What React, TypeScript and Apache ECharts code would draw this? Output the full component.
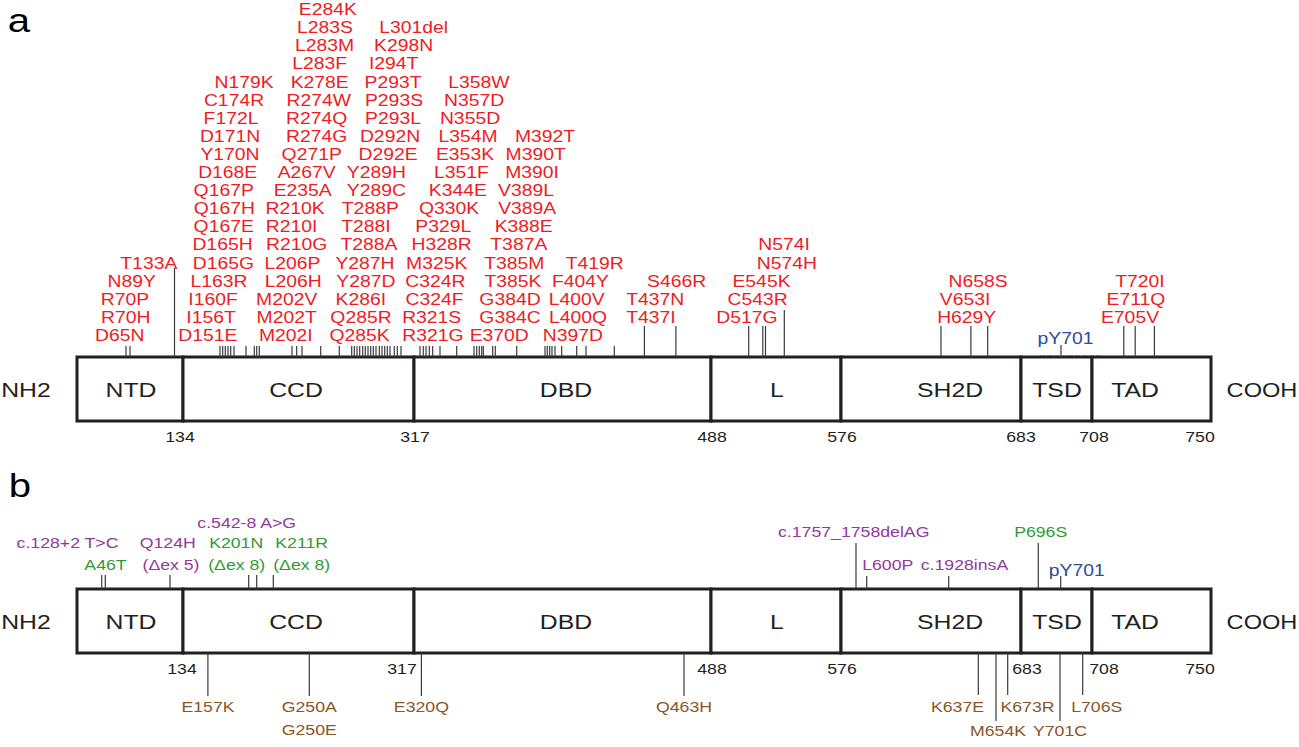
import React, { useEffect, useRef } from "react";
import * as echarts from "echarts";

// ---------- colours ----------
const RED = "#ee1c24";
const PURPLE = "#93399b";
const GREEN = "#2f9a34";
const BLUE = "#2e4b9c";
const BROWN = "#8b5526";
const INK = "#231f20";

// ---------- domain layout (display positions along the protein, axis units) ----------
const domainNames = ["NTD", "CCD", "DBD", "L", "SH2D", "TSD", "TAD"];
const domainEdges = [77, 183, 414, 711, 841, 1021, 1092, 1211];
const domainLabelX = [131, 296, 566, 777, 950, 1057, 1135];
const boundaryNumbers = ["134", "317", "488", "576", "683", "708", "750"];
const boundaryNumberXA = [180, 415, 712, 842, 1021, 1094, 1200];
const boundaryNumberXB = [182, 402, 712, 842, 1027, 1104, 1200];

// panel tops (axis units) and box height
const panelTops = [357, 589];
const BOX_H = 64;

// ---------- panel a : mutation labels [name, position, stack row] ----------
const labelsA: [string, number, number][] = [
  ["D65N", 119.8, 0], ["R70H", 125.8, 1], ["R70P", 125, 2], ["N89Y", 131.7, 3], ["T133A", 148.8, 4],
  ["D151E", 207.8, 0], ["I156T", 211, 1], ["I160F", 213, 2], ["L163R", 219, 3], ["D165G", 223.3, 4],
  ["D165H", 222.5, 5], ["Q167E", 223.7, 6], ["Q167H", 224.3, 7], ["Q167P", 223.7, 8], ["D168E", 227.7, 9],
  ["Y170N", 230, 10], ["D171N", 230, 11], ["F172L", 231, 12], ["C174R", 234, 13], ["N179K", 244, 14],
  ["M202I", 285.8, 0], ["M202T", 286.7, 1], ["M202V", 286.7, 2], ["L206H", 293.3, 3], ["L206P", 292.5, 4],
  ["R210G", 296.7, 5], ["R210I", 291.5, 6], ["R210K", 295, 7], ["E235A", 302.7, 8], ["A267V", 306.7, 9],
  ["Q271P", 311.7, 10], ["R274G", 316.7, 11], ["R274Q", 316.7, 12], ["R274W", 318.8, 13], ["K278E", 319.7, 14],
  ["L283F", 319.7, 15], ["L283M", 324.5, 16], ["L283S", 325, 17], ["E284K", 327.8, 18],
  ["Q285K", 359.5, 0], ["Q285R", 361, 1], ["K286I", 360.8, 2], ["Y287D", 365.8, 3], ["Y287H", 365, 4],
  ["T288A", 369, 5], ["T288I", 366, 6], ["T288P", 370.3, 7], ["Y289C", 376.3, 8], ["Y289H", 376.3, 9],
  ["D292E", 388, 10], ["D292N", 390, 11], ["P293L", 393, 12], ["P293S", 394, 13], ["P293T", 393, 14],
  ["I294T", 393.7, 15], ["K298N", 403.6, 16], ["L301del", 413.6, 17],
  ["R321G", 432.8, 0], ["R321S", 431.7, 1], ["C324F", 434.5, 2], ["C324R", 435.3, 3], ["M325K", 436.7, 4],
  ["H328R", 441.7, 5], ["P329L", 443.3, 6], ["Q330K", 449, 7], ["K344E", 457.8, 8], ["L351F", 461.3, 9],
  ["E353K", 465, 10], ["L354M", 468, 11], ["N355D", 470, 12], ["N357D", 474.2, 13], ["L358W", 478.8, 14],
  ["E370D", 499.2, 0], ["G384C", 510, 1], ["G384D", 510, 2], ["T385K", 513, 3], ["T385M", 514.3, 4],
  ["T387A", 518.8, 5], ["K388E", 523.7, 6], ["V389A", 527.2, 7], ["V389L", 526, 8], ["M390I", 532, 9],
  ["M390T", 535.7, 10], ["M392T", 545, 11],
  ["N397D", 572.8, 0], ["L400Q", 578, 1], ["L400V", 576.7, 2], ["F404Y", 580.5, 3], ["T419R", 594.7, 4],
  ["T437I", 651, 1], ["T437N", 655.2, 2], ["S466R", 676.6, 3],
  ["D517G", 746.9, 1], ["C543R", 757.7, 2], ["E545K", 761.5, 3], ["N574H", 786.8, 4], ["N574I", 784, 5],
  ["H629Y", 966.7, 1], ["V653I", 965, 2], ["N658S", 978, 3],
  ["E705V", 1130, 1], ["E711Q", 1136, 2], ["T720I", 1140, 3],
];
const ROW_BASE = 335.5;
const ROW_STEP = 18.1;

// panel a : short mutation ticks (positions)
const shortTicksA = [
  126, 130, 220, 222.7, 225.3, 228, 230.7, 234, 246, 254.3, 256.7, 259.3, 292, 296.7, 302, 320.7,
  339.3, 351.7, 354.3, 357, 359.7, 362.7, 365.3, 368, 370.7, 373.3, 376, 379.3, 382, 384.7, 387.3,
  390, 394.3, 397.3, 401, 420, 423.3, 426, 429.3, 432.7, 440, 456.7, 474, 476.7, 479.3, 481.7,
  483.3, 492.7, 495.3, 516.7, 545, 547.3, 549.7, 552, 555, 561.7, 576.7, 586, 614.3,
];
// panel a : long leader lines [position, top]
const longLinesA: [number, number][] = [
  [174.5, 268], [644.4, 326], [675.9, 326], [748.7, 326], [762.8, 326], [765.5, 326], [784.3, 310],
  [941, 326], [970.9, 326], [987.7, 326], [1123.8, 326], [1135.2, 326], [1154.4, 326], [1061, 345],
];

// ---------- panel b ----------
// leader lines above the box [position, top]
const upLinesB: [number, number][] = [
  [101.7, 575], [105.3, 575], [170, 575], [248.7, 575], [256.7, 575], [273.3, 575],
  [856, 543], [866.7, 576], [948.7, 576], [1038.3, 543], [1060.7, 576],
];
// leader lines below the box [position, bottom]
const downLinesB: [number, number][] = [
  [207.9, 696], [309.3, 696], [421.4, 696], [684, 696], [978.3, 695], [996, 721],
  [1007.7, 695], [1060, 721], [1082.7, 695],
];
// labels [text, position, vertical, colour]
const labelsB: [string, number, number, string][] = [
  ["c.128+2 T>C", 67.5, 543, PURPLE], ["A46T", 105.5, 565, GREEN],
  ["Q124H", 167.8, 543, PURPLE], ["(\u0394ex 5)", 171, 565, PURPLE],
  ["c.542-8 A>G", 246.7, 522.5, PURPLE], ["K201N", 236.2, 543, GREEN], ["(\u0394ex 8)", 236.7, 565, GREEN],
  ["K211R", 301.7, 543, GREEN], ["(\u0394ex 8)", 301.7, 565, GREEN],
  ["c.1757_1758delAG", 853.7, 531.7, PURPLE], ["L600P", 887.7, 565, PURPLE], ["c.1928insA", 964.5, 565, PURPLE],
  ["P696S", 1040.7, 531.7, GREEN],
  ["E157K", 208, 707, BROWN], ["G250A", 309.3, 707, BROWN], ["G250E", 309.3, 730, BROWN],
  ["E320Q", 421.4, 707, BROWN], ["Q463H", 684, 707, BROWN], ["K637E", 957.5, 707, BROWN],
  ["M654K", 998, 731, BROWN], ["K673R", 1027.5, 707, BROWN], ["Y701C", 1060, 731, BROWN],
  ["L706S", 1096.7, 707, BROWN],
];

const FONT = "'Liberation Sans', Arial, Helvetica, sans-serif";
const SX = 1.18;

type T = { text: string; x: number; y: number; size: number; color: string };

function buildTexts(): T[] {
  const out: T[] = [];
  out.push({ text: "a", x: 19, y: 20, size: 34, color: "#000" });
  out.push({ text: "b", x: 20, y: 485, size: 34, color: "#000" });
  panelTops.forEach((top, p) => {
    const mid = top + 33;
    out.push({ text: "NH2", x: 26, y: mid, size: 21, color: INK });
    out.push({ text: "COOH", x: 1262, y: mid, size: 20, color: INK });
    domainNames.forEach((n, i) => out.push({ text: n, x: domainLabelX[i], y: mid, size: 21, color: INK }));
    const nx = p === 0 ? boundaryNumberXA : boundaryNumberXB;
    boundaryNumbers.forEach((n, i) => out.push({ text: n, x: nx[i], y: top + BOX_H + 16, size: 15, color: INK }));
  });
  labelsA.forEach(([t, x, r]) => out.push({ text: t, x, y: ROW_BASE - r * ROW_STEP, size: 16.4, color: RED }));
  out.push({ text: "pY701", x: 1065.5, y: 339, size: 16.4, color: BLUE });
  out.push({ text: "pY701", x: 1076.7, y: 571, size: 16.4, color: BLUE });
  labelsB.forEach(([t, x, y, c]) => out.push({ text: t, x, y, size: 15, color: c }));
  return out;
}

type Seg = { x: number; y1: number; y2: number; color: string; w: number };
function buildSegments(): Seg[] {
  const segs: Seg[] = [];
  const aTop = panelTops[0];
  const bTop = panelTops[1];
  shortTicksA.forEach((x) => segs.push({ x, y1: aTop - 11, y2: aTop, color: "#3a3a3a", w: 1.2 }));
  longLinesA.forEach(([x, t]) => segs.push({ x, y1: t, y2: aTop, color: "#3a3a3a", w: 1.2 }));
  upLinesB.forEach(([x, t]) => segs.push({ x, y1: t, y2: bTop, color: "#3a3a3a", w: 1.2 }));
  downLinesB.forEach(([x, b]) => segs.push({ x, y1: bTop + BOX_H, y2: b, color: "#3a3a3a", w: 1.2 }));
  return segs;
}

function buildOption() {
  const texts = buildTexts();
  const segs = buildSegments();
  const boxes: number[][] = [];
  panelTops.forEach((top) => {
    for (let i = 0; i < domainNames.length; i++) boxes.push([domainEdges[i], domainEdges[i + 1], top]);
  });

  return {
    animation: false,
    backgroundColor: "#ffffff",
    grid: { left: 0, right: 0, top: 0, bottom: 0 },
    xAxis: { type: "value", min: 0, max: 1299, show: false },
    yAxis: { type: "value", min: 0, max: 747, inverse: true, show: false },
    series: [
      {
        type: "custom",
        silent: true,
        clip: false,
        z: 1,
        data: boxes,
        renderItem: (params: any, api: any) => {
          const x0 = api.value(0), x1 = api.value(1), top = api.value(2);
          const p0 = api.coord([x0, top]);
          const p1 = api.coord([x1, top + BOX_H]);
          return {
            type: "rect",
            shape: { x: p0[0], y: p0[1], width: p1[0] - p0[0], height: p1[1] - p0[1] },
            style: { fill: "#ffffff", stroke: INK, lineWidth: 3 },
          };
        },
      },
      {
        type: "custom",
        silent: true,
        clip: false,
        z: 2,
        data: segs.map((s) => [s.x, s.y1, s.y2]),
        renderItem: (params: any, api: any) => {
          const s = segs[params.dataIndex];
          const a = api.coord([api.value(0), api.value(1)]);
          const b = api.coord([api.value(0), api.value(2)]);
          return {
            type: "line",
            shape: { x1: a[0], y1: a[1], x2: b[0], y2: b[1] },
            style: { stroke: s.color, lineWidth: s.w },
          };
        },
      },
      {
        type: "custom",
        silent: true,
        clip: false,
        z: 3,
        data: [[1040, 1102, 355.5]],
        renderItem: (params: any, api: any) => {
          const a = api.coord([api.value(0), api.value(2)]);
          const b = api.coord([api.value(1), api.value(2)]);
          return {
            type: "line",
            shape: { x1: a[0], y1: a[1], x2: b[0], y2: b[1] },
            style: { stroke: "#4a63d6", lineWidth: 1, lineDash: [5, 2], opacity: 0.8 },
          };
        },
      },
      {
        type: "custom",
        silent: true,
        clip: false,
        z: 4,
        data: texts.map((t) => [t.x, t.y]),
        renderItem: (params: any, api: any) => {
          const t = texts[params.dataIndex];
          const p = api.coord([api.value(0), api.value(1)]);
          return {
            type: "text",
            x: p[0],
            y: p[1],
            scaleX: SX,
            style: {
              text: t.text,
              fill: t.color,
              fontSize: t.size,
              fontFamily: FONT,
              textAlign: "center",
              textVerticalAlign: "middle",
              align: "center",
              verticalAlign: "middle",
            },
          };
        },
      },
    ],
  };
}

export default function App() {
  const ref = useRef<HTMLDivElement>(null);
  useEffect(() => {
    if (!ref.current) return;
    const chart = echarts.init(ref.current, null, { renderer: "svg" });
    chart.setOption(buildOption() as any);
    return () => chart.dispose();
  }, []);
  return (
    <div
      ref={ref}
      style={{ position: "absolute", left: 0, top: 0, width: 1299, height: 747, background: "#ffffff" }}
    />
  );
}
